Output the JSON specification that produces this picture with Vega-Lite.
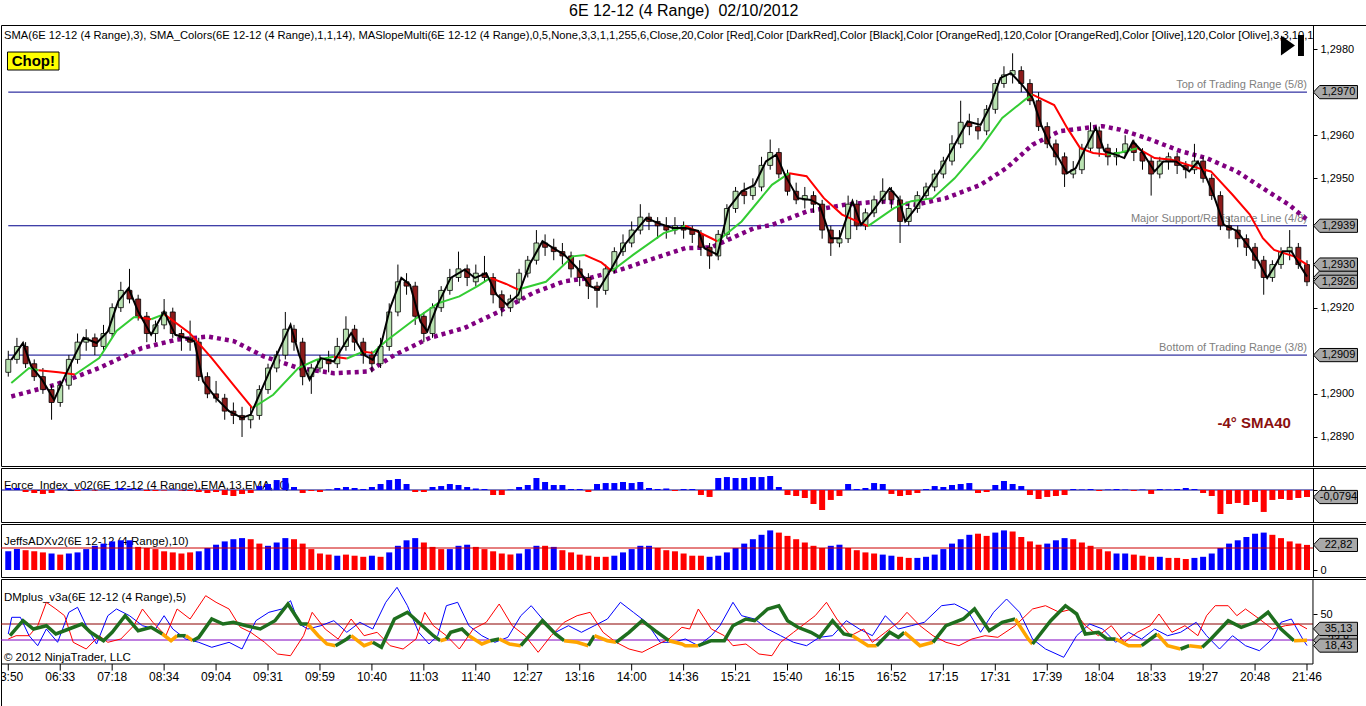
{
  "$schema": "https://vega.github.io/schema/vega-lite/v6.json",
  "background": "#ffffff",
  "padding": {"left": 0, "right": 0, "top": 2, "bottom": 0},
  "title": {"text": "6E 12-12 (4 Range) \u00a002/10/2012", "fontSize": 16, "fontWeight": "normal", "anchor": "middle", "offset": 6, "color": "#000"},
  "spacing": 0,
  "datasets": {
    "bars": [
      {"i":0,"o":1.2905,"h":1.2910,"l":1.2904,"c":1.2908,"f":0.023,"a":17,"ac":"b"},
      {"i":1,"o":1.2908,"h":1.2913,"l":1.2907,"c":1.2911,"f":0.023,"a":19,"ac":"b"},
      {"i":2,"o":1.2911,"h":1.2912,"l":1.2906,"c":1.2907,"f":-0.023,"a":18,"ac":"r"},
      {"i":3,"o":1.2907,"h":1.2908,"l":1.2903,"c":1.2904,"f":-0.034,"a":17,"ac":"r"},
      {"i":4,"o":1.2904,"h":1.2906,"l":1.2900,"c":1.2901,"f":-0.045,"a":16,"ac":"r"},
      {"i":5,"o":1.2901,"h":1.2902,"l":1.2894,"c":1.2898,"f":-0.034,"a":15,"ac":"b"},
      {"i":6,"o":1.2898,"h":1.2903,"l":1.2897,"c":1.2902,"f":0.011,"a":14,"ac":"r"},
      {"i":7,"o":1.2902,"h":1.2909,"l":1.2901,"c":1.2908,"f":0.006,"a":15,"ac":"b"},
      {"i":8,"o":1.2908,"h":1.2914,"l":1.2907,"c":1.2912,"f":-0.011,"a":16,"ac":"b"},
      {"i":9,"o":1.2912,"h":1.2915,"l":1.2910,"c":1.2913,"f":0.011,"a":19,"ac":"b"},
      {"i":10,"o":1.2913,"h":1.2914,"l":1.2909,"c":1.2911,"f":-0.006,"a":22,"ac":"b"},
      {"i":11,"o":1.2911,"h":1.2916,"l":1.2910,"c":1.2914,"f":0.006,"a":24,"ac":"b"},
      {"i":12,"o":1.2914,"h":1.2921,"l":1.2913,"c":1.2920,"f":0.011,"a":26,"ac":"b"},
      {"i":13,"o":1.2920,"h":1.2926,"l":1.2919,"c":1.2924,"f":0.023,"a":27,"ac":"b"},
      {"i":14,"o":1.2924,"h":1.2929,"l":1.2921,"c":1.2922,"f":0.017,"a":27,"ac":"b"},
      {"i":15,"o":1.2922,"h":1.2923,"l":1.2917,"c":1.2918,"f":0.011,"a":21,"ac":"r"},
      {"i":16,"o":1.2918,"h":1.2919,"l":1.2912,"c":1.2914,"f":-0.011,"a":20,"ac":"r"},
      {"i":17,"o":1.2914,"h":1.2917,"l":1.2912,"c":1.2916,"f":-0.011,"a":19,"ac":"r"},
      {"i":18,"o":1.2916,"h":1.2922,"l":1.2915,"c":1.2919,"f":-0.006,"a":17,"ac":"r"},
      {"i":19,"o":1.2919,"h":1.2920,"l":1.2913,"c":1.2914,"f":0.006,"a":16,"ac":"r"},
      {"i":20,"o":1.2914,"h":1.2915,"l":1.2910,"c":1.2913,"f":-0.006,"a":15,"ac":"r"},
      {"i":21,"o":1.2913,"h":1.2917,"l":1.2910,"c":1.2912,"f":-0.011,"a":16,"ac":"r"},
      {"i":22,"o":1.2912,"h":1.2913,"l":1.2903,"c":1.2904,"f":-0.023,"a":17,"ac":"b"},
      {"i":23,"o":1.2904,"h":1.2905,"l":1.2899,"c":1.2900,"f":-0.034,"a":20,"ac":"b"},
      {"i":24,"o":1.2900,"h":1.2903,"l":1.2898,"c":1.2899,"f":-0.023,"a":23,"ac":"b"},
      {"i":25,"o":1.2899,"h":1.2900,"l":1.2894,"c":1.2896,"f":-0.057,"a":26,"ac":"b"},
      {"i":26,"o":1.2896,"h":1.2898,"l":1.2893,"c":1.2895,"f":-0.068,"a":28,"ac":"b"},
      {"i":27,"o":1.2895,"h":1.2897,"l":1.2890,"c":1.2894,"f":-0.045,"a":29,"ac":"b"},
      {"i":28,"o":1.2894,"h":1.2897,"l":1.2892,"c":1.2895,"f":-0.034,"a":28,"ac":"r"},
      {"i":29,"o":1.2895,"h":1.2902,"l":1.2894,"c":1.2901,"f":0.045,"a":24,"ac":"r"},
      {"i":30,"o":1.2901,"h":1.2907,"l":1.2900,"c":1.2906,"f":0.068,"a":22,"ac":"b"},
      {"i":31,"o":1.2906,"h":1.2910,"l":1.2905,"c":1.2909,"f":0.113,"a":25,"ac":"b"},
      {"i":32,"o":1.2909,"h":1.2919,"l":1.2908,"c":1.2915,"f":0.136,"a":29,"ac":"b"},
      {"i":33,"o":1.2915,"h":1.2916,"l":1.2910,"c":1.2912,"f":0.034,"a":28,"ac":"r"},
      {"i":34,"o":1.2912,"h":1.2913,"l":1.2902,"c":1.2904,"f":-0.034,"a":24,"ac":"r"},
      {"i":35,"o":1.2904,"h":1.2907,"l":1.2900,"c":1.2906,"f":-0.011,"a":19,"ac":"r"},
      {"i":36,"o":1.2906,"h":1.2909,"l":1.2905,"c":1.2908,"f":-0.023,"a":15,"ac":"r"},
      {"i":37,"o":1.2908,"h":1.2910,"l":1.2905,"c":1.2907,"f":0.006,"a":14,"ac":"r"},
      {"i":38,"o":1.2907,"h":1.2913,"l":1.2906,"c":1.2911,"f":0.023,"a":13,"ac":"b"},
      {"i":39,"o":1.2911,"h":1.2918,"l":1.2910,"c":1.2915,"f":0.034,"a":14,"ac":"r"},
      {"i":40,"o":1.2915,"h":1.2916,"l":1.2910,"c":1.2912,"f":0.023,"a":13,"ac":"r"},
      {"i":41,"o":1.2912,"h":1.2913,"l":1.2907,"c":1.2909,"f":0.011,"a":12,"ac":"r"},
      {"i":42,"o":1.2909,"h":1.2910,"l":1.2905,"c":1.2907,"f":0.034,"a":13,"ac":"b"},
      {"i":43,"o":1.2907,"h":1.2913,"l":1.2906,"c":1.2911,"f":0.068,"a":12,"ac":"r"},
      {"i":44,"o":1.2911,"h":1.2921,"l":1.2910,"c":1.2919,"f":0.113,"a":16,"ac":"b"},
      {"i":45,"o":1.2919,"h":1.2930,"l":1.2918,"c":1.2926,"f":0.125,"a":22,"ac":"b"},
      {"i":46,"o":1.2926,"h":1.2928,"l":1.2923,"c":1.2925,"f":0.068,"a":27,"ac":"b"},
      {"i":47,"o":1.2925,"h":1.2926,"l":1.2916,"c":1.2918,"f":-0.023,"a":29,"ac":"b"},
      {"i":48,"o":1.2918,"h":1.2919,"l":1.2912,"c":1.2914,"f":-0.023,"a":25,"ac":"r"},
      {"i":49,"o":1.2914,"h":1.2921,"l":1.2913,"c":1.2920,"f":0.034,"a":21,"ac":"r"},
      {"i":50,"o":1.2920,"h":1.2925,"l":1.2919,"c":1.2924,"f":0.045,"a":19,"ac":"r"},
      {"i":51,"o":1.2924,"h":1.2929,"l":1.2923,"c":1.2927,"f":0.068,"a":19,"ac":"b"},
      {"i":52,"o":1.2927,"h":1.2933,"l":1.2926,"c":1.2929,"f":0.057,"a":22,"ac":"b"},
      {"i":53,"o":1.2929,"h":1.2930,"l":1.2925,"c":1.2927,"f":0.034,"a":23,"ac":"b"},
      {"i":54,"o":1.2926,"h":1.2930,"l":1.2925,"c":1.2928,"f":0.017,"a":21,"ac":"r"},
      {"i":55,"o":1.2928,"h":1.2932,"l":1.2926,"c":1.2927,"f":0.011,"a":19,"ac":"r"},
      {"i":56,"o":1.2927,"h":1.2928,"l":1.2921,"c":1.2923,"f":-0.057,"a":17,"ac":"r"},
      {"i":57,"o":1.2923,"h":1.2924,"l":1.2918,"c":1.2920,"f":-0.057,"a":15,"ac":"r"},
      {"i":58,"o":1.2920,"h":1.2923,"l":1.2919,"c":1.2922,"f":0.006,"a":14,"ac":"r"},
      {"i":59,"o":1.2922,"h":1.2929,"l":1.2921,"c":1.2928,"f":0.034,"a":15,"ac":"b"},
      {"i":60,"o":1.2928,"h":1.2932,"l":1.2927,"c":1.2931,"f":0.057,"a":19,"ac":"b"},
      {"i":61,"o":1.2931,"h":1.2938,"l":1.2930,"c":1.2935,"f":0.136,"a":22,"ac":"b"},
      {"i":62,"o":1.2935,"h":1.2937,"l":1.2932,"c":1.2934,"f":0.091,"a":22,"ac":"r"},
      {"i":63,"o":1.2934,"h":1.2936,"l":1.2931,"c":1.2933,"f":0.057,"a":21,"ac":"b"},
      {"i":64,"o":1.2933,"h":1.2935,"l":1.2930,"c":1.2932,"f":0.057,"a":18,"ac":"r"},
      {"i":65,"o":1.2932,"h":1.2933,"l":1.2927,"c":1.2929,"f":0.011,"a":16,"ac":"r"},
      {"i":66,"o":1.2929,"h":1.2931,"l":1.2925,"c":1.2927,"f":0.011,"a":14,"ac":"r"},
      {"i":67,"o":1.2927,"h":1.2928,"l":1.2922,"c":1.2925,"f":-0.023,"a":13,"ac":"r"},
      {"i":68,"o":1.2925,"h":1.2926,"l":1.2920,"c":1.2924,"f":0.068,"a":12,"ac":"r"},
      {"i":69,"o":1.2924,"h":1.2930,"l":1.2923,"c":1.2929,"f":0.079,"a":12,"ac":"r"},
      {"i":70,"o":1.2929,"h":1.2934,"l":1.2928,"c":1.2933,"f":0.079,"a":13,"ac":"b"},
      {"i":71,"o":1.2933,"h":1.2937,"l":1.2932,"c":1.2935,"f":0.091,"a":16,"ac":"b"},
      {"i":72,"o":1.2935,"h":1.2940,"l":1.2934,"c":1.2938,"f":0.079,"a":19,"ac":"b"},
      {"i":73,"o":1.2938,"h":1.2944,"l":1.2937,"c":1.2941,"f":0.091,"a":22,"ac":"b"},
      {"i":74,"o":1.2941,"h":1.2942,"l":1.2938,"c":1.2940,"f":0.023,"a":22,"ac":"b"},
      {"i":75,"o":1.2940,"h":1.2941,"l":1.2936,"c":1.2939,"f":0.011,"a":20,"ac":"r"},
      {"i":76,"o":1.2939,"h":1.2941,"l":1.2936,"c":1.2938,"f":0.017,"a":18,"ac":"r"},
      {"i":77,"o":1.2938,"h":1.2941,"l":1.2937,"c":1.2939,"f":-0.011,"a":17,"ac":"r"},
      {"i":78,"o":1.2939,"h":1.2940,"l":1.2936,"c":1.2938,"f":0.011,"a":15,"ac":"r"},
      {"i":79,"o":1.2938,"h":1.2939,"l":1.2935,"c":1.2937,"f":0.011,"a":13,"ac":"r"},
      {"i":80,"o":1.2937,"h":1.2938,"l":1.2932,"c":1.2934,"f":-0.057,"a":13,"ac":"r"},
      {"i":81,"o":1.2934,"h":1.2935,"l":1.2929,"c":1.2932,"f":-0.079,"a":12,"ac":"b"},
      {"i":82,"o":1.2932,"h":1.2938,"l":1.2931,"c":1.2937,"f":0.136,"a":13,"ac":"b"},
      {"i":83,"o":1.2937,"h":1.2944,"l":1.2936,"c":1.2943,"f":0.147,"a":16,"ac":"b"},
      {"i":84,"o":1.2943,"h":1.2948,"l":1.2942,"c":1.2947,"f":0.136,"a":20,"ac":"b"},
      {"i":85,"o":1.2947,"h":1.2949,"l":1.2944,"c":1.2946,"f":0.136,"a":24,"ac":"b"},
      {"i":86,"o":1.2946,"h":1.2950,"l":1.2945,"c":1.2948,"f":0.147,"a":28,"ac":"b"},
      {"i":87,"o":1.2948,"h":1.2955,"l":1.2947,"c":1.2953,"f":0.147,"a":32,"ac":"b"},
      {"i":88,"o":1.2953,"h":1.2959,"l":1.2952,"c":1.2956,"f":0.159,"a":36,"ac":"b"},
      {"i":89,"o":1.2956,"h":1.2957,"l":1.2950,"c":1.2951,"f":0.034,"a":34,"ac":"r"},
      {"i":90,"o":1.2951,"h":1.2952,"l":1.2946,"c":1.2947,"f":-0.057,"a":31,"ac":"r"},
      {"i":91,"o":1.2947,"h":1.2949,"l":1.2944,"c":1.2945,"f":-0.068,"a":28,"ac":"r"},
      {"i":92,"o":1.2945,"h":1.2948,"l":1.2943,"c":1.2946,"f":-0.091,"a":25,"ac":"r"},
      {"i":93,"o":1.2946,"h":1.2947,"l":1.2942,"c":1.2944,"f":-0.159,"a":22,"ac":"r"},
      {"i":94,"o":1.2944,"h":1.2945,"l":1.2936,"c":1.2938,"f":-0.227,"a":20,"ac":"r"},
      {"i":95,"o":1.2938,"h":1.2939,"l":1.2932,"c":1.2935,"f":-0.113,"a":22,"ac":"b"},
      {"i":96,"o":1.2935,"h":1.2938,"l":1.2934,"c":1.2936,"f":-0.068,"a":23,"ac":"b"},
      {"i":97,"o":1.2936,"h":1.2946,"l":1.2935,"c":1.2944,"f":0.068,"a":20,"ac":"r"},
      {"i":98,"o":1.2944,"h":1.2945,"l":1.2938,"c":1.2939,"f":0.011,"a":18,"ac":"r"},
      {"i":99,"o":1.2939,"h":1.2943,"l":1.2938,"c":1.2942,"f":0.023,"a":16,"ac":"r"},
      {"i":100,"o":1.2942,"h":1.2946,"l":1.2941,"c":1.2945,"f":0.079,"a":15,"ac":"r"},
      {"i":101,"o":1.2945,"h":1.2950,"l":1.2944,"c":1.2947,"f":0.068,"a":14,"ac":"b"},
      {"i":102,"o":1.2947,"h":1.2948,"l":1.2943,"c":1.2945,"f":-0.045,"a":13,"ac":"b"},
      {"i":103,"o":1.2945,"h":1.2946,"l":1.2935,"c":1.2940,"f":-0.068,"a":12,"ac":"r"},
      {"i":104,"o":1.2940,"h":1.2944,"l":1.2939,"c":1.2943,"f":-0.057,"a":11,"ac":"r"},
      {"i":105,"o":1.2943,"h":1.2947,"l":1.2942,"c":1.2946,"f":-0.034,"a":11,"ac":"b"},
      {"i":106,"o":1.2946,"h":1.2949,"l":1.2945,"c":1.2948,"f":0.011,"a":12,"ac":"b"},
      {"i":107,"o":1.2948,"h":1.2952,"l":1.2947,"c":1.2951,"f":0.045,"a":14,"ac":"b"},
      {"i":108,"o":1.2951,"h":1.2955,"l":1.2950,"c":1.2954,"f":0.034,"a":19,"ac":"b"},
      {"i":109,"o":1.2954,"h":1.2960,"l":1.2953,"c":1.2958,"f":0.057,"a":24,"ac":"b"},
      {"i":110,"o":1.2958,"h":1.2968,"l":1.2957,"c":1.2963,"f":0.068,"a":28,"ac":"b"},
      {"i":111,"o":1.2963,"h":1.2965,"l":1.2960,"c":1.2962,"f":0.079,"a":32,"ac":"b"},
      {"i":112,"o":1.2962,"h":1.2964,"l":1.2959,"c":1.2961,"f":-0.034,"a":33,"ac":"r"},
      {"i":113,"o":1.2961,"h":1.2967,"l":1.2960,"c":1.2966,"f":-0.023,"a":31,"ac":"r"},
      {"i":114,"o":1.2966,"h":1.2973,"l":1.2965,"c":1.2972,"f":0.057,"a":34,"ac":"b"},
      {"i":115,"o":1.2972,"h":1.2976,"l":1.2971,"c":1.2974,"f":0.102,"a":36,"ac":"b"},
      {"i":116,"o":1.2974,"h":1.2979,"l":1.2972,"c":1.2975,"f":0.068,"a":35,"ac":"r"},
      {"i":117,"o":1.2975,"h":1.2976,"l":1.2970,"c":1.2972,"f":0.045,"a":30,"ac":"r"},
      {"i":118,"o":1.2972,"h":1.2973,"l":1.2967,"c":1.2968,"f":-0.057,"a":26,"ac":"r"},
      {"i":119,"o":1.2968,"h":1.2970,"l":1.2961,"c":1.2962,"f":-0.102,"a":23,"ac":"r"},
      {"i":120,"o":1.2962,"h":1.2963,"l":1.2957,"c":1.2958,"f":-0.079,"a":24,"ac":"b"},
      {"i":121,"o":1.2958,"h":1.2959,"l":1.2953,"c":1.2955,"f":-0.068,"a":27,"ac":"b"},
      {"i":122,"o":1.2955,"h":1.2956,"l":1.2948,"c":1.2951,"f":-0.057,"a":29,"ac":"b"},
      {"i":123,"o":1.2951,"h":1.2954,"l":1.2950,"c":1.2952,"f":0.011,"a":28,"ac":"r"},
      {"i":124,"o":1.2952,"h":1.2958,"l":1.2951,"c":1.2957,"f":0.006,"a":25,"ac":"r"},
      {"i":125,"o":1.2957,"h":1.2963,"l":1.2956,"c":1.2961,"f":0.011,"a":22,"ac":"r"},
      {"i":126,"o":1.2961,"h":1.2962,"l":1.2955,"c":1.2957,"f":-0.011,"a":19,"ac":"r"},
      {"i":127,"o":1.2957,"h":1.2958,"l":1.2953,"c":1.2955,"f":0.006,"a":17,"ac":"r"},
      {"i":128,"o":1.2955,"h":1.2957,"l":1.2953,"c":1.2956,"f":0.011,"a":15,"ac":"b"},
      {"i":129,"o":1.2956,"h":1.2960,"l":1.2955,"c":1.2958,"f":0.006,"a":15,"ac":"b"},
      {"i":130,"o":1.2958,"h":1.2959,"l":1.2954,"c":1.2956,"f":-0.011,"a":14,"ac":"r"},
      {"i":131,"o":1.2956,"h":1.2957,"l":1.2952,"c":1.2954,"f":0.006,"a":13,"ac":"r"},
      {"i":132,"o":1.2954,"h":1.2955,"l":1.2946,"c":1.2951,"f":-0.045,"a":12,"ac":"r"},
      {"i":133,"o":1.2951,"h":1.2955,"l":1.2950,"c":1.2954,"f":0.011,"a":12,"ac":"b"},
      {"i":134,"o":1.2954,"h":1.2956,"l":1.2952,"c":1.2955,"f":0.006,"a":11,"ac":"r"},
      {"i":135,"o":1.2955,"h":1.2956,"l":1.2951,"c":1.2953,"f":0.011,"a":11,"ac":"r"},
      {"i":136,"o":1.2953,"h":1.2954,"l":1.2950,"c":1.2952,"f":0.023,"a":10,"ac":"r"},
      {"i":137,"o":1.2952,"h":1.2958,"l":1.2951,"c":1.2954,"f":0.011,"a":11,"ac":"b"},
      {"i":138,"o":1.2954,"h":1.2955,"l":1.2949,"c":1.2950,"f":-0.034,"a":12,"ac":"b"},
      {"i":139,"o":1.2950,"h":1.2951,"l":1.2945,"c":1.2946,"f":-0.068,"a":15,"ac":"b"},
      {"i":140,"o":1.2946,"h":1.2947,"l":1.2938,"c":1.2939,"f":-0.272,"a":20,"ac":"b"},
      {"i":141,"o":1.2939,"h":1.2941,"l":1.2936,"c":1.2938,"f":-0.159,"a":24,"ac":"b"},
      {"i":142,"o":1.2938,"h":1.2939,"l":1.2934,"c":1.2936,"f":-0.147,"a":27,"ac":"b"},
      {"i":143,"o":1.2936,"h":1.2937,"l":1.2932,"c":1.2934,"f":-0.170,"a":30,"ac":"b"},
      {"i":144,"o":1.2934,"h":1.2935,"l":1.2929,"c":1.2931,"f":-0.136,"a":33,"ac":"b"},
      {"i":145,"o":1.2931,"h":1.2932,"l":1.2923,"c":1.2927,"f":-0.249,"a":34,"ac":"b"},
      {"i":146,"o":1.2927,"h":1.2931,"l":1.2926,"c":1.2930,"f":-0.113,"a":32,"ac":"r"},
      {"i":147,"o":1.2930,"h":1.2934,"l":1.2929,"c":1.2933,"f":-0.102,"a":29,"ac":"r"},
      {"i":148,"o":1.2933,"h":1.2938,"l":1.2931,"c":1.2934,"f":-0.113,"a":26,"ac":"r"},
      {"i":149,"o":1.2934,"h":1.2935,"l":1.2929,"c":1.2930,"f":-0.091,"a":24,"ac":"r"},
      {"i":150,"o":1.2930,"h":1.2931,"l":1.2925,"c":1.2926,"f":-0.0794,"a":22.82,"ac":"r"}
    ],
    "sma3": [
      {"i":0.35,"p":1.29079},{"i":1.7,"p":1.29118},{"i":2.65,"p":1.29064},{"i":3.9,"p":1.29033},{"i":5.3,"p":1.28986},{"i":6.45,"p":1.29037},{"i":7.7,"p":1.2909},{"i":8.7,"p":1.2913},{"i":10.2,"p":1.29118},{"i":11.5,"p":1.29145},{"i":12.7,"p":1.29215},{"i":13.9,"p":1.29245},{"i":15,"p":1.29191},{"i":16.5,"p":1.29137},{"i":18,"p":1.29191},{"i":19.3,"p":1.29137},{"i":20.5,"p":1.2913},{"i":21.5,"p":1.29122},{"i":22.5,"p":1.29029},{"i":24,"p":1.2899},{"i":25.5,"p":1.2896},{"i":27,"p":1.28944},{"i":28,"p":1.28952},{"i":29.5,"p":1.29021},{"i":31,"p":1.2909},{"i":32.6,"p":1.2916},{"i":33.6,"p":1.2909},{"i":34.8,"p":1.29033},{"i":36.1,"p":1.29083},{"i":37.6,"p":1.29075},{"i":39.6,"p":1.29141},{"i":41.1,"p":1.2909},{"i":42.1,"p":1.29079},{"i":43.1,"p":1.29118},{"i":44.1,"p":1.29199},{"i":45.4,"p":1.29269},{"i":46.4,"p":1.29253},{"i":47.6,"p":1.29168},{"i":48.4,"p":1.29145},{"i":49.6,"p":1.29207},{"i":51.1,"p":1.29269},{"i":52.7,"p":1.29288},{"i":53.9,"p":1.29269},{"i":55.2,"p":1.2928},{"i":56.4,"p":1.2923},{"i":57.6,"p":1.29207},{"i":58.9,"p":1.2923},{"i":60.2,"p":1.293},{"i":61.7,"p":1.29354},{"i":62.95,"p":1.29338},{"i":64.2,"p":1.29323},{"i":65.7,"p":1.29292},{"i":67.2,"p":1.2925},{"i":68.2,"p":1.29242},{"i":69.7,"p":1.29292},{"i":71.2,"p":1.29346},{"i":72.75,"p":1.29385},{"i":73.7,"p":1.29408},{"i":75.2,"p":1.29395},{"i":76.75,"p":1.29385},{"i":78.2,"p":1.29385},{"i":79.7,"p":1.29378},{"i":80.4,"p":1.29338},{"i":81.9,"p":1.29323},{"i":83.2,"p":1.29431},{"i":84.7,"p":1.2947},{"i":86.2,"p":1.29485},{"i":87.5,"p":1.29539},{"i":88.7,"p":1.29555},{"i":89.7,"p":1.29508},{"i":91.2,"p":1.29454},{"i":92.7,"p":1.2945},{"i":93.7,"p":1.29439},{"i":95,"p":1.29361},{"i":96,"p":1.29361},{"i":97.5,"p":1.29447},{"i":98.5,"p":1.29392},{"i":99.8,"p":1.29423},{"i":101.8,"p":1.29477},{"i":102.8,"p":1.29454},{"i":103.6,"p":1.294},{"i":104.8,"p":1.29431},{"i":106.3,"p":1.29477},{"i":107.8,"p":1.29524},{"i":109.3,"p":1.29578},{"i":110.8,"p":1.29632},{"i":112.3,"p":1.29624},{"i":113.3,"p":1.29663},{"i":114.6,"p":1.29733},{"i":115.8,"p":1.29744},{"i":117.1,"p":1.29717},{"i":118.3,"p":1.29686},{"i":119.3,"p":1.29624},{"i":120.3,"p":1.29578},{"i":121.3,"p":1.29547},{"i":122.3,"p":1.29512},{"i":123.3,"p":1.29524},{"i":124.4,"p":1.2957},{"i":125.6,"p":1.29617},{"i":126.6,"p":1.29563},{"i":127.9,"p":1.29555},{"i":128.9,"p":1.29547},{"i":129.9,"p":1.29586},{"i":130.9,"p":1.29563},{"i":132.4,"p":1.29516},{"i":133.4,"p":1.29539},{"i":134.9,"p":1.29539},{"i":136.4,"p":1.29516},{"i":137.4,"p":1.29539},{"i":138.4,"p":1.295},{"i":139.2,"p":1.29462},{"i":140.4,"p":1.29392},{"i":141.9,"p":1.29378},{"i":143.4,"p":1.29338},{"i":144.4,"p":1.29307},{"i":145.4,"p":1.29269},{"i":146.4,"p":1.293},{"i":147.2,"p":1.29331},{"i":148.2,"p":1.29331},{"i":148.9,"p":1.29307},{"i":150,"p":1.29272}
    ],
    "sma14": [
      {"i":0.35,"p":1.29025,"s":1,"c":"g"},{"i":2.4,"p":1.2906,"s":1,"c":"g"},{"i":3.5,"p":1.29055,"s":1,"c":"g"},
      {"i":3.5,"p":1.29055,"s":2,"c":"r"},{"i":5.8,"p":1.2905,"s":2,"c":"r"},{"i":7.7,"p":1.29045,"s":2,"c":"r"},
      {"i":7.7,"p":1.29045,"s":3,"c":"g"},{"i":10.5,"p":1.29083,"s":3,"c":"g"},{"i":12.5,"p":1.29146,"s":3,"c":"g"},{"i":14.5,"p":1.29178,"s":3,"c":"g"},{"i":15,"p":1.29178,"s":3,"c":"g"},
      {"i":15,"p":1.29178,"s":4,"c":"r"},{"i":16.5,"p":1.29173,"s":4,"c":"r"},
      {"i":16.5,"p":1.29173,"s":5,"c":"g"},{"i":18,"p":1.29185,"s":5,"c":"g"},
      {"i":18,"p":1.29185,"s":6,"c":"r"},{"i":21,"p":1.2914,"s":6,"c":"r"},{"i":23.5,"p":1.29083,"s":6,"c":"r"},{"i":26,"p":1.29021,"s":6,"c":"r"},{"i":28.2,"p":1.28967,"s":6,"c":"r"},
      {"i":28.2,"p":1.28967,"s":7,"c":"g"},{"i":30.6,"p":1.28998,"s":7,"c":"g"},{"i":33.5,"p":1.2906,"s":7,"c":"g"},{"i":35.6,"p":1.29079,"s":7,"c":"g"},{"i":37.6,"p":1.29086,"s":7,"c":"g"},
      {"i":37.6,"p":1.29086,"s":8,"c":"r"},{"i":39.1,"p":1.29082,"s":8,"c":"r"},
      {"i":39.1,"p":1.29082,"s":9,"c":"g"},{"i":41,"p":1.29098,"s":9,"c":"g"},
      {"i":41,"p":1.29098,"s":10,"c":"r"},{"i":42.1,"p":1.29095,"s":10,"c":"r"},
      {"i":42.1,"p":1.29095,"s":11,"c":"g"},{"i":43.6,"p":1.29122,"s":11,"c":"g"},{"i":46.6,"p":1.29168,"s":11,"c":"g"},{"i":49.6,"p":1.2921,"s":11,"c":"g"},{"i":52.1,"p":1.29226,"s":11,"c":"g"},{"i":54.2,"p":1.2925,"s":11,"c":"g"},{"i":55.7,"p":1.29269,"s":11,"c":"g"},
      {"i":55.7,"p":1.29269,"s":12,"c":"r"},{"i":57.5,"p":1.29255,"s":12,"c":"r"},{"i":58.9,"p":1.29242,"s":12,"c":"r"},
      {"i":58.9,"p":1.29242,"s":13,"c":"g"},{"i":62.1,"p":1.2926,"s":13,"c":"g"},{"i":65.2,"p":1.29319,"s":13,"c":"g"},{"i":66.6,"p":1.29322,"s":13,"c":"g"},
      {"i":66.6,"p":1.29322,"s":14,"c":"r"},{"i":68.5,"p":1.29305,"s":14,"c":"r"},{"i":69.7,"p":1.29285,"s":14,"c":"r"},
      {"i":69.7,"p":1.29285,"s":15,"c":"g"},{"i":72.2,"p":1.29323,"s":15,"c":"g"},{"i":75.7,"p":1.29373,"s":15,"c":"g"},{"i":77.7,"p":1.29385,"s":15,"c":"g"},{"i":78.2,"p":1.2939,"s":15,"c":"g"},
      {"i":78.2,"p":1.2939,"s":16,"c":"r"},{"i":81.2,"p":1.29361,"s":16,"c":"r"},{"i":81.9,"p":1.29354,"s":16,"c":"r"},
      {"i":81.9,"p":1.29354,"s":17,"c":"g"},{"i":84.7,"p":1.294,"s":17,"c":"g"},{"i":88.2,"p":1.29485,"s":17,"c":"g"},{"i":90.2,"p":1.29512,"s":17,"c":"g"},
      {"i":90.2,"p":1.29512,"s":18,"c":"r"},{"i":92.2,"p":1.29505,"s":18,"c":"r"},{"i":94.2,"p":1.29454,"s":18,"c":"r"},{"i":96.3,"p":1.29416,"s":18,"c":"r"},{"i":99.3,"p":1.29389,"s":18,"c":"r"},
      {"i":99.3,"p":1.29389,"s":19,"c":"g"},{"i":102.3,"p":1.29431,"s":19,"c":"g"},{"i":104.3,"p":1.29447,"s":19,"c":"g"},{"i":106.8,"p":1.29454,"s":19,"c":"g"},{"i":109.3,"p":1.295,"s":19,"c":"g"},{"i":112.3,"p":1.2957,"s":19,"c":"g"},{"i":114.8,"p":1.2964,"s":19,"c":"g"},{"i":117.4,"p":1.29682,"s":19,"c":"g"},{"i":118.3,"p":1.29694,"s":19,"c":"g"},
      {"i":118.3,"p":1.29694,"s":20,"c":"r"},{"i":120.8,"p":1.2967,"s":20,"c":"r"},{"i":122.3,"p":1.29617,"s":20,"c":"r"},{"i":123.8,"p":1.2957,"s":20,"c":"r"},{"i":125.3,"p":1.29559,"s":20,"c":"r"},{"i":126.9,"p":1.29555,"s":20,"c":"r"},
      {"i":126.9,"p":1.29555,"s":21,"c":"g"},{"i":128.5,"p":1.2956,"s":21,"c":"g"},{"i":130.4,"p":1.2957,"s":21,"c":"g"},
      {"i":130.4,"p":1.2957,"s":22,"c":"r"},{"i":132.4,"p":1.29547,"s":22,"c":"r"},{"i":134.4,"p":1.29543,"s":22,"c":"r"},{"i":137.4,"p":1.29524,"s":22,"c":"r"},{"i":138.9,"p":1.29516,"s":22,"c":"r"},{"i":141.4,"p":1.29462,"s":22,"c":"r"},{"i":143.4,"p":1.29416,"s":22,"c":"r"},{"i":144.9,"p":1.29361,"s":22,"c":"r"},{"i":146.2,"p":1.29334,"s":22,"c":"r"},{"i":148.5,"p":1.29319,"s":22,"c":"r"},{"i":150,"p":1.293,"s":22,"c":"r"}
    ],
    "sma40": [
      {"i":0.35,"p":1.28994},{"i":5.4,"p":1.29021},{"i":10.5,"p":1.2906},{"i":15.4,"p":1.29106},{"i":19.5,"p":1.29126},{"i":23.1,"p":1.29133},{"i":26.1,"p":1.29122},{"i":29.5,"p":1.29087},{"i":33.5,"p":1.2906},{"i":37.6,"p":1.29048},{"i":41.6,"p":1.29052},{"i":44.6,"p":1.2909},{"i":48.7,"p":1.2913},{"i":52.7,"p":1.29153},{"i":56.7,"p":1.29191},{"i":60.6,"p":1.29234},{"i":64.2,"p":1.29261},{"i":67.2,"p":1.29269},{"i":70.7,"p":1.29288},{"i":74.7,"p":1.29315},{"i":78.2,"p":1.29338},{"i":81.2,"p":1.2934},{"i":86.2,"p":1.29385},{"i":88.2,"p":1.29392},{"i":92.2,"p":1.29423},{"i":96.7,"p":1.29439},{"i":100.8,"p":1.29447},{"i":104.8,"p":1.29439},{"i":108.3,"p":1.29454},{"i":112.3,"p":1.29485},{"i":115.3,"p":1.29524},{"i":118.3,"p":1.29578},{"i":121.4,"p":1.29609},{"i":124.4,"p":1.29617},{"i":126.4,"p":1.29621},{"i":128.4,"p":1.29613},{"i":131.4,"p":1.29594},{"i":135.4,"p":1.29563},{"i":138.4,"p":1.29547},{"i":141.9,"p":1.29516},{"i":144.9,"p":1.29477},{"i":147.9,"p":1.29439},{"i":150,"p":1.29404}
    ],
    "dmb": [
      {"i":0,"v":30},{"i":0.4,"v":46.7},{"i":1.4,"v":46.7},{"i":2.4,"v":28.3},{"i":3.4,"v":18.3},{"i":4.4,"v":35},{"i":5.7,"v":21.7},{"i":7,"v":51.7},{"i":8,"v":56.7},{"i":9,"v":38.3},{"i":10.2,"v":20},{"i":11.5,"v":48.3},{"i":12.5,"v":55},{"i":14,"v":48.3},{"i":15.5,"v":38.3},{"i":17,"v":35},{"i":18,"v":48.3},{"i":19,"v":35},{"i":20.5,"v":25},{"i":22,"v":21.7},{"i":23.5,"v":16.7},{"i":25.5,"v":21.7},{"i":27,"v":15},{"i":28.6,"v":43.3},{"i":30.1,"v":51.7},{"i":31.6,"v":55},{"i":32.6,"v":63.3},{"i":33.6,"v":40},{"i":34.6,"v":35},{"i":36.1,"v":38.3},{"i":37.6,"v":43.3},{"i":39.1,"v":31.7},{"i":40.6,"v":41.7},{"i":42.1,"v":35},{"i":43.6,"v":61.7},{"i":44.9,"v":76.7},{"i":46.1,"v":58.3},{"i":47.4,"v":31.7},{"i":48.6,"v":20},{"i":49.6,"v":28.3},{"i":50.6,"v":58.3},{"i":51.9,"v":61.7},{"i":53.2,"v":38.3},{"i":54.7,"v":28.3},{"i":56.2,"v":21.7},{"i":57.7,"v":26.7},{"i":59.2,"v":48.3},{"i":60.4,"v":58.3},{"i":61.7,"v":45},{"i":63.2,"v":31.7},{"i":64.7,"v":38.3},{"i":66.2,"v":31.7},{"i":67.7,"v":38.3},{"i":69.2,"v":45},{"i":70.7,"v":61.7},{"i":72.2,"v":51.7},{"i":73.7,"v":41.7},{"i":75.3,"v":21.7},{"i":76.8,"v":21.7},{"i":78.2,"v":25},{"i":79.7,"v":18.3},{"i":81.2,"v":28.3},{"i":82.2,"v":38.3},{"i":83.7,"v":61.7},{"i":84.7,"v":48.3},{"i":86.2,"v":45},{"i":87.7,"v":35},{"i":89.2,"v":28.3},{"i":90.7,"v":21.7},{"i":92.2,"v":18.3},{"i":93.7,"v":26.7},{"i":95.2,"v":28.3},{"i":96.8,"v":43.3},{"i":98.3,"v":35},{"i":99.8,"v":28.3},{"i":101.3,"v":48.3},{"i":102.8,"v":35},{"i":104.3,"v":38.3},{"i":105.8,"v":41.7},{"i":107.8,"v":58.3},{"i":109.3,"v":60},{"i":110.8,"v":53.3},{"i":112.3,"v":31.7},{"i":113.8,"v":51.7},{"i":115.3,"v":65},{"i":116.8,"v":51.7},{"i":118.3,"v":25},{"i":119.8,"v":15},{"i":121.9,"v":6.7},{"i":123.4,"v":28.3},{"i":124.9,"v":40},{"i":126.4,"v":35},{"i":127.9,"v":21.7},{"i":129.4,"v":31.7},{"i":130.9,"v":25},{"i":132.4,"v":35},{"i":133.9,"v":28.3},{"i":135.4,"v":31.7},{"i":137.2,"v":41.7},{"i":138.4,"v":28.3},{"i":139.9,"v":15},{"i":141.4,"v":28.3},{"i":142.9,"v":18.3},{"i":144.5,"v":13.3},{"i":146,"v":25},{"i":147,"v":41.7},{"i":148.2,"v":45},{"i":149.5,"v":25},{"i":150,"v":18.43}
    ],
    "dmr": [
      {"i":0,"v":25},{"i":0.9,"v":28.3},{"i":2.4,"v":28.3},{"i":3.4,"v":38.3},{"i":4.4,"v":61.7},{"i":5.5,"v":55},{"i":6.5,"v":48.3},{"i":7.5,"v":21.7},{"i":9,"v":15},{"i":10.5,"v":28.3},{"i":11.5,"v":21.7},{"i":13,"v":25},{"i":14.5,"v":38.3},{"i":15.5,"v":55},{"i":16.7,"v":41.7},{"i":18.2,"v":28.3},{"i":19.5,"v":55},{"i":21,"v":45},{"i":22.8,"v":68.3},{"i":24,"v":61.7},{"i":25.5,"v":55},{"i":26.8,"v":36.7},{"i":28,"v":31.7},{"i":29.6,"v":21.7},{"i":31.1,"v":10},{"i":32.6,"v":8.3},{"i":34.1,"v":28.3},{"i":35.1,"v":51.7},{"i":36.6,"v":35},{"i":38.1,"v":25},{"i":39.6,"v":45},{"i":41.1,"v":28.3},{"i":42.6,"v":31.7},{"i":44.1,"v":18.3},{"i":45.6,"v":15},{"i":47.1,"v":25},{"i":48.1,"v":51.7},{"i":49.1,"v":38.3},{"i":50.6,"v":28.3},{"i":52.1,"v":15},{"i":53.7,"v":35},{"i":55.2,"v":41.7},{"i":56.7,"v":60},{"i":58.2,"v":38.3},{"i":59.7,"v":28.3},{"i":61.2,"v":11.7},{"i":62.7,"v":28.3},{"i":64.2,"v":41.7},{"i":65.7,"v":48.3},{"i":67.2,"v":51.7},{"i":68.7,"v":31.7},{"i":70.2,"v":21.7},{"i":71.7,"v":15},{"i":73.2,"v":11.7},{"i":74.7,"v":18.3},{"i":76.3,"v":25},{"i":77.8,"v":36.7},{"i":78.7,"v":35},{"i":79.7,"v":55},{"i":81.2,"v":35},{"i":82.7,"v":28.3},{"i":83.7,"v":18.3},{"i":85.2,"v":20},{"i":86.7,"v":10},{"i":88.2,"v":8.3},{"i":89.2,"v":21.7},{"i":90.7,"v":31.7},{"i":92.2,"v":41.7},{"i":93.2,"v":48.3},{"i":94.5,"v":61.7},{"i":95.7,"v":45},{"i":97.3,"v":28.3},{"i":98.8,"v":35},{"i":99.8,"v":21.7},{"i":101.3,"v":31.7},{"i":102.8,"v":41.7},{"i":103.8,"v":51.7},{"i":105.3,"v":38.3},{"i":106.8,"v":28.3},{"i":108.3,"v":21.7},{"i":109.8,"v":18.3},{"i":111.3,"v":25},{"i":112.8,"v":28.3},{"i":114.3,"v":26.7},{"i":116.3,"v":38.3},{"i":118.3,"v":55},{"i":119.8,"v":58.3},{"i":121.4,"v":51.7},{"i":122.9,"v":55},{"i":124.4,"v":38.3},{"i":125.9,"v":28.3},{"i":127.4,"v":38.3},{"i":128.9,"v":21.7},{"i":130.4,"v":31.7},{"i":131.9,"v":38.3},{"i":132.9,"v":50},{"i":134.4,"v":31.7},{"i":135.9,"v":38.3},{"i":137.4,"v":28.3},{"i":138.4,"v":48.3},{"i":139.4,"v":58.3},{"i":140.9,"v":58.3},{"i":141.9,"v":48.3},{"i":142.9,"v":55},{"i":144.5,"v":45},{"i":146,"v":35},{"i":147.5,"v":38.3},{"i":149,"v":40},{"i":150,"v":35.13}
    ],
    "dmt": [
      {"i":0.2,"v":28.3,"s":1,"c":"d"},{"i":1.7,"v":43.3,"s":1,"c":"d"},{"i":2.9,"v":35,"s":1,"c":"d"},{"i":4.4,"v":38.3,"s":1,"c":"d"},{"i":5.5,"v":30,"s":1,"c":"d"},{"i":7,"v":35,"s":1,"c":"d"},{"i":8.5,"v":40,"s":1,"c":"d"},{"i":9.5,"v":31.7,"s":1,"c":"d"},{"i":11,"v":23.3,"s":1,"c":"d"},{"i":12,"v":31.7,"s":1,"c":"d"},{"i":13.5,"v":48.3,"s":1,"c":"d"},{"i":15,"v":33.3,"s":1,"c":"d"},{"i":16.5,"v":36.7,"s":1,"c":"d"},{"i":17.8,"v":30,"s":1,"c":"d"},
      {"i":17.8,"v":30,"s":2,"c":"o"},{"i":18.8,"v":23.3,"s":2,"c":"o"},{"i":19.5,"v":28.3,"s":2,"c":"o"},
      {"i":19.5,"v":28.3,"s":3,"c":"d"},{"i":20.5,"v":28.3,"s":3,"c":"d"},
      {"i":20.5,"v":28.3,"s":4,"c":"o"},{"i":21.3,"v":23.3,"s":4,"c":"o"},
      {"i":21.3,"v":23.3,"s":5,"c":"d"},{"i":22,"v":26.7,"s":5,"c":"d"},{"i":23.5,"v":45,"s":5,"c":"d"},{"i":24.8,"v":40,"s":5,"c":"d"},{"i":26,"v":41.7,"s":5,"c":"d"},{"i":27.5,"v":38.3,"s":5,"c":"d"},{"i":29.1,"v":35,"s":5,"c":"d"},{"i":30.8,"v":43.3,"s":5,"c":"d"},{"i":32.3,"v":60,"s":5,"c":"d"},{"i":33.8,"v":40,"s":5,"c":"d"},{"i":34.6,"v":40,"s":5,"c":"d"},
      {"i":34.6,"v":40,"s":6,"c":"o"},{"i":35.8,"v":28.3,"s":6,"c":"o"},{"i":36.8,"v":20,"s":6,"c":"o"},{"i":37.8,"v":18.3,"s":6,"c":"o"},
      {"i":37.8,"v":18.3,"s":7,"c":"d"},{"i":39.1,"v":25,"s":7,"c":"d"},{"i":39.6,"v":28.3,"s":7,"c":"d"},
      {"i":39.6,"v":28.3,"s":8,"c":"o"},{"i":41.1,"v":18.3,"s":8,"c":"o"},{"i":42.1,"v":21.7,"s":8,"c":"o"},
      {"i":42.1,"v":21.7,"s":9,"c":"d"},{"i":43.1,"v":16.7,"s":9,"c":"d"},{"i":44.6,"v":45,"s":9,"c":"d"},{"i":46.1,"v":51.7,"s":9,"c":"d"},{"i":47.6,"v":40,"s":9,"c":"d"},{"i":49.1,"v":28.3,"s":9,"c":"d"},{"i":49.9,"v":23.3,"s":9,"c":"d"},
      {"i":49.9,"v":23.3,"s":10,"c":"o"},{"i":50.6,"v":25,"s":10,"c":"o"},
      {"i":50.6,"v":25,"s":11,"c":"d"},{"i":51.1,"v":31.7,"s":11,"c":"d"},{"i":52.4,"v":35,"s":11,"c":"d"},{"i":53.2,"v":28.3,"s":11,"c":"d"},
      {"i":53.2,"v":28.3,"s":12,"c":"o"},{"i":54.7,"v":20,"s":12,"c":"o"},{"i":55.7,"v":23.3,"s":12,"c":"o"},
      {"i":55.7,"v":23.3,"s":13,"c":"d"},{"i":56.7,"v":25,"s":13,"c":"d"},
      {"i":56.7,"v":25,"s":14,"c":"o"},{"i":57.9,"v":20,"s":14,"c":"o"},{"i":59.2,"v":18.3,"s":14,"c":"o"},
      {"i":59.2,"v":18.3,"s":15,"c":"d"},{"i":60.2,"v":28.3,"s":15,"c":"d"},{"i":61.7,"v":43.3,"s":15,"c":"d"},{"i":63.2,"v":30,"s":15,"c":"d"},{"i":64.2,"v":23.3,"s":15,"c":"d"},
      {"i":64.2,"v":23.3,"s":16,"c":"o"},{"i":65.7,"v":21.7,"s":16,"c":"o"},{"i":67,"v":18.3,"s":16,"c":"o"},
      {"i":67,"v":18.3,"s":17,"c":"d"},{"i":67.7,"v":28.3,"s":17,"c":"d"},
      {"i":67.7,"v":28.3,"s":18,"c":"o"},{"i":69.2,"v":23.3,"s":18,"c":"o"},{"i":70.2,"v":21.7,"s":18,"c":"o"},
      {"i":70.2,"v":21.7,"s":19,"c":"d"},{"i":71.7,"v":31.7,"s":19,"c":"d"},{"i":73.2,"v":43.3,"s":19,"c":"d"},{"i":74.7,"v":33.3,"s":19,"c":"d"},{"i":76.3,"v":23.3,"s":19,"c":"d"},
      {"i":76.3,"v":23.3,"s":20,"c":"o"},{"i":77.8,"v":20,"s":20,"c":"o"},{"i":78.2,"v":18.3,"s":20,"c":"o"},{"i":79.7,"v":18.3,"s":20,"c":"o"},
      {"i":79.7,"v":18.3,"s":21,"c":"d"},{"i":81.2,"v":23.3,"s":21,"c":"d"},{"i":82.7,"v":23.3,"s":21,"c":"d"},{"i":83.7,"v":38.3,"s":21,"c":"d"},{"i":85.2,"v":45,"s":21,"c":"d"},{"i":86.2,"v":43.3,"s":21,"c":"d"},{"i":87.7,"v":55,"s":21,"c":"d"},{"i":89,"v":58.3,"s":21,"c":"d"},{"i":90,"v":43.3,"s":21,"c":"d"},{"i":91.2,"v":36.7,"s":21,"c":"d"},{"i":92.7,"v":31.7,"s":21,"c":"d"},{"i":93.7,"v":26.7,"s":21,"c":"d"},{"i":95.2,"v":43.3,"s":21,"c":"d"},{"i":96.5,"v":30,"s":21,"c":"d"},{"i":97.5,"v":28.3,"s":21,"c":"d"},
      {"i":97.5,"v":28.3,"s":22,"c":"o"},{"i":99.3,"v":18.3,"s":22,"c":"o"},{"i":100.3,"v":18.3,"s":22,"c":"o"},
      {"i":100.3,"v":18.3,"s":23,"c":"d"},{"i":101.8,"v":31.7,"s":23,"c":"d"},{"i":102.8,"v":26.7,"s":23,"c":"d"},{"i":103.5,"v":31.7,"s":23,"c":"d"},
      {"i":103.5,"v":31.7,"s":24,"c":"o"},{"i":105.3,"v":18.3,"s":24,"c":"o"},{"i":106.8,"v":21.7,"s":24,"c":"o"},
      {"i":106.8,"v":21.7,"s":25,"c":"d"},{"i":108.3,"v":38.3,"s":25,"c":"d"},{"i":110.3,"v":45,"s":25,"c":"d"},{"i":111.6,"v":55,"s":25,"c":"d"},{"i":113.3,"v":33.3,"s":25,"c":"d"},{"i":114.8,"v":41.7,"s":25,"c":"d"},{"i":116.3,"v":45,"s":25,"c":"d"},
      {"i":116.3,"v":45,"s":26,"c":"o"},{"i":117.8,"v":25,"s":26,"c":"o"},{"i":118.3,"v":20,"s":26,"c":"o"},
      {"i":118.3,"v":20,"s":27,"c":"d"},{"i":120.4,"v":43.3,"s":27,"c":"d"},{"i":122.1,"v":58.3,"s":27,"c":"d"},{"i":123.4,"v":50,"s":27,"c":"d"},{"i":124.4,"v":30,"s":27,"c":"d"},{"i":125.9,"v":31.7,"s":27,"c":"d"},{"i":126.9,"v":25,"s":27,"c":"d"},{"i":127.9,"v":25,"s":27,"c":"d"},
      {"i":127.9,"v":25,"s":28,"c":"o"},{"i":129.4,"v":18.3,"s":28,"c":"o"},{"i":130.9,"v":18.3,"s":28,"c":"o"},
      {"i":130.9,"v":18.3,"s":29,"c":"d"},{"i":132.7,"v":30,"s":29,"c":"d"},
      {"i":132.7,"v":30,"s":30,"c":"o"},{"i":133.9,"v":18.3,"s":30,"c":"o"},{"i":135.4,"v":15,"s":30,"c":"o"},
      {"i":135.4,"v":15,"s":31,"c":"d"},{"i":136.4,"v":18.3,"s":31,"c":"d"},
      {"i":136.4,"v":18.3,"s":32,"c":"o"},{"i":137.9,"v":16.7,"s":32,"c":"o"},
      {"i":137.9,"v":16.7,"s":33,"c":"d"},{"i":138.9,"v":25,"s":33,"c":"d"},{"i":140.9,"v":43.3,"s":33,"c":"d"},{"i":142.4,"v":36.7,"s":33,"c":"d"},{"i":144,"v":41.7,"s":33,"c":"d"},{"i":145.5,"v":51.7,"s":33,"c":"d"},{"i":147,"v":35,"s":33,"c":"d"},{"i":148.5,"v":23.3,"s":33,"c":"d"},
      {"i":148.5,"v":23.3,"s":34,"c":"o"},{"i":150,"v":23.8,"s":34,"c":"o"}
    ],
    "ticks": [
      {"i":0,"t":"03:50"},{"i":6,"t":"06:33"},{"i":12,"t":"07:18"},{"i":18,"t":"08:34"},{"i":24,"t":"09:04"},{"i":30,"t":"09:31"},{"i":36,"t":"09:59"},{"i":42,"t":"10:40"},{"i":48,"t":"11:03"},{"i":54,"t":"11:40"},{"i":60,"t":"12:27"},{"i":66,"t":"13:16"},{"i":72,"t":"14:00"},{"i":78,"t":"14:36"},{"i":84,"t":"15:21"},{"i":90,"t":"15:40"},{"i":96,"t":"16:15"},{"i":102,"t":"16:52"},{"i":108,"t":"17:15"},{"i":114,"t":"17:31"},{"i":120,"t":"17:39"},{"i":126,"t":"18:04"},{"i":132,"t":"18:33"},{"i":138,"t":"19:27"},{"i":144,"t":"20:48"},{"i":150,"t":"21:46"}
    ]
  },
  "vconcat": [
    {
      "width": 1366,
      "height": 441,
      "layer": [
        {
          "data": {"values": [{"p": 1.2970}, {"p": 1.2939}, {"p": 1.2909}]},
          "mark": {"type": "rule", "color": "#00008B", "strokeWidth": 1},
          "encoding": {
            "x": {"datum": 0.0, "type": "quantitative", "scale": {"domain": [-0.84, 156.93], "nice": false, "zero": false, "padding": 0}, "axis": null},
            "x2": {"datum": 150},
            "y": {"field": "p", "type": "quantitative", "scale": {"domain": [1.288327, 1.298557], "nice": false, "zero": false},
              "axis": {"orient": "right", "offset": -54, "title": null, "grid": false, "values": [1.289, 1.29, 1.292, 1.295, 1.296, 1.298],
                "labelExpr": "replace(format(datum.value, '.4f'), '.', ',')", "tickSize": 4, "tickColor": "#000", "domainColor": "#000", "labelColor": "#000", "labelFontSize": 11, "labelPadding": 3, "labelOverlap": false}}
          }
        },
        {
          "data": {"values": [{"p": 1.2970, "t": "Top of Trading Range (5/8)"}, {"p": 1.2939, "t": "Major Support/Resistance Line (4/8)"}, {"p": 1.2909, "t": "Bottom of Trading Range (3/8)"}]},
          "mark": {"type": "text", "align": "right", "baseline": "middle", "dy": -7, "fontSize": 11, "color": "#808080"},
          "encoding": {"x": {"datum": 150}, "y": {"field": "p", "type": "quantitative"}, "text": {"field": "t"}}
        },
        {
          "data": {"name": "sma40"},
          "mark": {"type": "line", "color": "#800080", "strokeWidth": 4.5, "strokeDash": [4, 4]},
          "encoding": {"x": {"field": "i", "type": "quantitative"}, "y": {"field": "p", "type": "quantitative"}}
        },
        {
          "data": {"name": "bars"},
          "mark": {"type": "rule", "color": "#000", "strokeWidth": 1},
          "encoding": {"x": {"field": "i", "type": "quantitative"}, "y": {"field": "l", "type": "quantitative"}, "y2": {"field": "h"}}
        },
        {
          "data": {"name": "bars"},
          "mark": {"type": "bar", "size": 5, "stroke": "#000", "strokeWidth": 0.8},
          "encoding": {
            "x": {"field": "i", "type": "quantitative"},
            "y": {"field": "o", "type": "quantitative"},
            "y2": {"field": "c"},
            "color": {"condition": {"test": "datum.c >= datum.o", "value": "#b9e2b1"}, "value": "#8B1A1A"}
          }
        },
        {
          "data": {"name": "sma14"},
          "mark": {"type": "line", "strokeWidth": 2},
          "encoding": {
            "x": {"field": "i", "type": "quantitative"},
            "y": {"field": "p", "type": "quantitative"},
            "detail": {"field": "s", "type": "nominal"},
            "color": {"field": "c", "type": "nominal", "scale": {"domain": ["g", "r", "d", "o"], "range": ["#33CC33", "#FF0000", "#1E6E1E", "#FFA500"]}, "legend": null}
          }
        },
        {
          "data": {"name": "sma3"},
          "mark": {"type": "line", "color": "#000", "strokeWidth": 2},
          "encoding": {"x": {"field": "i", "type": "quantitative"}, "y": {"field": "p", "type": "quantitative"}}
        },
        {
          "data": {"values": [{"x1": -0.09, "x2": 5.86, "y1": 1.29793, "y2": 1.297513}]},
          "mark": {"type": "rect", "fill": "#FFFF00", "stroke": "#000", "strokeWidth": 1},
          "encoding": {"x": {"field": "x1", "type": "quantitative"}, "x2": {"field": "x2"}, "y": {"field": "y1", "type": "quantitative"}, "y2": {"field": "y2"}}
        },
        {
          "data": {"values": [{"x": 2.89, "p": 1.29772, "t": "Chop!"}]},
          "mark": {"type": "text", "align": "center", "baseline": "middle", "fontSize": 15, "fontWeight": "bold", "color": "#000"},
          "encoding": {"x": {"field": "x", "type": "quantitative"}, "y": {"field": "p", "type": "quantitative"}, "text": {"field": "t"}}
        },
        {
          "data": {"values": [{"x": -0.5, "p": 1.29830, "t": "SMA(6E 12-12 (4 Range),3), SMA_Colors(6E 12-12 (4 Range),1,1,14), MASlopeMulti(6E 12-12 (4 Range),0,5,None,3,3,1,1,255,6,Close,20,Color [Red],Color [DarkRed],Color [Black],Color [OrangeRed],120,Color [OrangeRed],Color [Olive],120,Color [Olive],3,3,10,1"}]},
          "mark": {"type": "text", "align": "left", "baseline": "middle", "fontSize": 11.2, "color": "#000"},
          "encoding": {"x": {"field": "x", "type": "quantitative"}, "y": {"field": "p", "type": "quantitative"}, "text": {"field": "t"}}
        },
        {
          "data": {"values": [{"x": 143.9, "p": 1.28932, "t": "-4°  SMA40"}]},
          "mark": {"type": "text", "align": "center", "baseline": "middle", "fontSize": 15, "fontWeight": "bold", "color": "#8B1010"},
          "encoding": {"x": {"field": "x", "type": "quantitative"}, "y": {"field": "p", "type": "quantitative"}, "text": {"field": "t"}}
        },
        {
          "data": {"values": [{"x": 147.8, "p": 1.298081}]},
          "mark": {"type": "point", "shape": "M-0.7,-1L0.7,0L-0.7,1Z", "size": 400, "filled": true, "fill": "#000", "opacity": 1},
          "encoding": {"x": {"field": "x", "type": "quantitative"}, "y": {"field": "p", "type": "quantitative"}}
        },
        {
          "data": {"values": [{"x1": 148.96, "x2": 149.65, "y1": 1.298325, "y2": 1.297838}]},
          "mark": {"type": "rect", "fill": "#000"},
          "encoding": {"x": {"field": "x1", "type": "quantitative"}, "x2": {"field": "x2"}, "y": {"field": "y1", "type": "quantitative"}, "y2": {"field": "y2"}}
        },
        {
          "data": {"values": [{"x": 153.29, "p": 1.2927}]},
          "mark": {"type": "point", "shape": "M-1,0L-0.72,-0.3L1,-0.3L1,0.3L-0.72,0.3Z", "size": 1936, "filled": true, "fill": "#a8a8a8", "stroke": "#000", "strokeWidth": 1, "opacity": 1},
          "encoding": {"x": {"field": "x", "type": "quantitative"}, "y": {"field": "p", "type": "quantitative"}}
        },
        {
          "data": {"values": [{"x": 153.29, "p": 1.2970, "t": "1,2970"}, {"x": 153.29, "p": 1.2939, "t": "1,2939"}, {"x": 153.29, "p": 1.2930, "t": "1,2930"}, {"x": 153.29, "p": 1.2926, "t": "1,2926"}, {"x": 153.29, "p": 1.2909, "t": "1,2909"}]},
          "layer": [
            {
              "mark": {"type": "point", "shape": "M-1,0L-0.72,-0.3L1,-0.3L1,0.3L-0.72,0.3Z", "size": 1936, "filled": true, "fill": "#a8a8a8", "stroke": "#000", "strokeWidth": 1, "opacity": 1},
              "encoding": {"x": {"field": "x", "type": "quantitative"}, "y": {"field": "p", "type": "quantitative"}}
            },
            {
              "mark": {"type": "text", "align": "center", "baseline": "middle", "dx": 3, "fontSize": 11, "color": "#000"},
              "encoding": {"x": {"field": "x", "type": "quantitative"}, "y": {"field": "p", "type": "quantitative"}, "text": {"field": "t"}}
            }
          ]
        }
      ]
    },
    {
      "width": 1366,
      "height": 54,
      "layer": [
        {
          "data": {"values": [{"x": -0.5, "v": 0.045, "t": "Force_Index_v02(6E 12-12 (4 Range),EMA,13,EMA,10)"}]},
          "mark": {"type": "text", "align": "left", "baseline": "middle", "fontSize": 11.5, "color": "#000"},
          "encoding": {
            "x": {"field": "x", "type": "quantitative", "scale": {"domain": [-0.84, 156.93], "nice": false, "zero": false, "padding": 0}, "axis": null},
            "y": {"field": "v", "type": "quantitative", "scale": {"domain": [-0.3629, 0.2495], "nice": false, "zero": false},
              "axis": {"orient": "right", "offset": -54, "title": null, "grid": false, "values": [0], "tickSize": 4, "tickColor": "#000", "domainColor": "#000", "labelColor": "#000", "labelFontSize": 11, "labelPadding": 3}},
            "text": {"field": "t"}
          }
        },
        {
          "data": {"values": [{"x1": -0.84, "x2": 150.69, "v": 0}]},
          "mark": {"type": "rule", "color": "#000080", "strokeWidth": 1},
          "encoding": {"x": {"field": "x1", "type": "quantitative"}, "x2": {"field": "x2"}, "y": {"field": "v", "type": "quantitative"}}
        },
        {
          "data": {"name": "bars"},
          "mark": {"type": "bar", "size": 6},
          "encoding": {
            "x": {"field": "i", "type": "quantitative"},
            "y": {"field": "f", "type": "quantitative"},
            "y2": {"datum": 0},
            "color": {"condition": {"test": "datum.f >= 0", "value": "#0000FF"}, "value": "#FF0000"}
          }
        },
        {
          "data": {"values": [{"x": 153.29, "v": -0.0794, "t": "-0,0794"}]},
          "layer": [
            {
              "mark": {"type": "point", "shape": "M-1,0L-0.72,-0.3L1,-0.3L1,0.3L-0.72,0.3Z", "size": 1936, "filled": true, "fill": "#a8a8a8", "stroke": "#000", "strokeWidth": 1, "opacity": 1},
              "encoding": {"x": {"field": "x", "type": "quantitative"}, "y": {"field": "v", "type": "quantitative"}}
            },
            {
              "mark": {"type": "text", "align": "center", "baseline": "middle", "dx": 3, "fontSize": 11, "color": "#000"},
              "encoding": {"x": {"field": "x", "type": "quantitative"}, "y": {"field": "v", "type": "quantitative"}, "text": {"field": "t"}}
            }
          ]
        }
      ]
    },
    {
      "width": 1366,
      "height": 53,
      "layer": [
        {
          "data": {"values": [{"x": -0.5, "v": 25.5, "t": "JeffsADXv2(6E 12-12 (4 Range),10)"}]},
          "mark": {"type": "text", "align": "left", "baseline": "middle", "fontSize": 11.5, "color": "#000"},
          "encoding": {
            "x": {"field": "x", "type": "quantitative", "scale": {"domain": [-0.84, 156.93], "nice": false, "zero": false, "padding": 0}, "axis": null},
            "y": {"field": "v", "type": "quantitative", "scale": {"domain": [-6.36, 41.82], "nice": false, "zero": false},
              "axis": {"orient": "right", "offset": -54, "title": null, "grid": false, "values": [0], "tickSize": 4, "tickColor": "#000", "domainColor": "#000", "labelColor": "#000", "labelFontSize": 11, "labelPadding": 3}},
            "text": {"field": "t"}
          }
        },
        {
          "data": {"name": "bars"},
          "mark": {"type": "bar", "size": 6},
          "encoding": {
            "x": {"field": "i", "type": "quantitative"},
            "y": {"field": "a", "type": "quantitative"},
            "y2": {"datum": 0},
            "color": {"condition": {"test": "datum.ac == 'b'", "value": "#0000FF"}, "value": "#FF0000"}
          }
        },
        {
          "data": {"values": [{"x1": -0.84, "x2": 150.69, "v": 20}]},
          "mark": {"type": "rule", "color": "#CC0000", "strokeWidth": 1},
          "encoding": {"x": {"field": "x1", "type": "quantitative"}, "x2": {"field": "x2"}, "y": {"field": "v", "type": "quantitative"}}
        },
        {
          "data": {"values": [{"x": 153.29, "v": 22.82, "t": "22,82"}]},
          "layer": [
            {
              "mark": {"type": "point", "shape": "M-1,0L-0.72,-0.3L1,-0.3L1,0.3L-0.72,0.3Z", "size": 1936, "filled": true, "fill": "#a8a8a8", "stroke": "#000", "strokeWidth": 1, "opacity": 1},
              "encoding": {"x": {"field": "x", "type": "quantitative"}, "y": {"field": "v", "type": "quantitative"}}
            },
            {
              "mark": {"type": "text", "align": "center", "baseline": "middle", "dx": 3, "fontSize": 11, "color": "#000"},
              "encoding": {"x": {"field": "x", "type": "quantitative"}, "y": {"field": "v", "type": "quantitative"}, "text": {"field": "t"}}
            }
          ]
        }
      ]
    },
    {
      "width": 1366,
      "height": 130,
      "layer": [
        {
          "data": {"values": [{"x": -0.5, "v": 66, "t": "DMplus_v3a(6E 12-12 (4 Range),5)"}, {"x": -0.5, "v": 6, "t": "© 2012 NinjaTrader, LLC"}]},
          "mark": {"type": "text", "align": "left", "baseline": "middle", "fontSize": 11.5, "color": "#000"},
          "encoding": {
            "x": {"field": "x", "type": "quantitative", "scale": {"domain": [-0.84, 156.93], "nice": false, "zero": false, "padding": 0}, "axis": null},
            "y": {"field": "v", "type": "quantitative", "scale": {"domain": [-45, 85], "nice": false, "zero": false},
              "axis": {"orient": "right", "offset": -54, "title": null, "grid": false, "domain": false, "values": [50], "tickSize": 4, "tickColor": "#000", "labelColor": "#000", "labelFontSize": 11, "labelPadding": 3}},
            "text": {"field": "t"}
          }
        },
        {
          "data": {"values": [{"x1": -0.84, "x2": 150.69, "v": 40, "k": "a"}, {"x1": -0.84, "x2": 150.69, "v": 24, "k": "b"}, {"x1": -0.84, "x2": 150.69, "v": 0, "k": "c"}]},
          "mark": {"type": "rule", "strokeWidth": 1},
          "encoding": {
            "x": {"field": "x1", "type": "quantitative"}, "x2": {"field": "x2"},
            "y": {"field": "v", "type": "quantitative"},
            "color": {"condition": [{"test": "datum.k == 'a'", "value": "#8B0000"}, {"test": "datum.k == 'b'", "value": "#8000C0"}], "value": "#000000"}
          }
        },
        {
          "data": {"values": [{"x": 150.69, "v1": 0, "v2": 85}]},
          "mark": {"type": "rule", "color": "#000", "strokeWidth": 1},
          "encoding": {"x": {"field": "x", "type": "quantitative"}, "y": {"field": "v1", "type": "quantitative"}, "y2": {"field": "v2"}}
        },
        {
          "data": {"name": "ticks"},
          "mark": {"type": "rule", "color": "#000", "strokeWidth": 1},
          "encoding": {"x": {"field": "i", "type": "quantitative"}, "y": {"datum": 0}, "y2": {"datum": -6.5}}
        },
        {
          "data": {"name": "ticks"},
          "mark": {"type": "text", "align": "center", "baseline": "middle", "fontSize": 12, "color": "#000", "clip": true},
          "encoding": {"x": {"field": "i", "type": "quantitative"}, "y": {"datum": -13.3}, "text": {"field": "t"}}
        },
        {
          "data": {"name": "dmb"},
          "mark": {"type": "line", "color": "#0000FF", "strokeWidth": 1},
          "encoding": {"x": {"field": "i", "type": "quantitative"}, "y": {"field": "v", "type": "quantitative"}}
        },
        {
          "data": {"name": "dmr"},
          "mark": {"type": "line", "color": "#FF0000", "strokeWidth": 1},
          "encoding": {"x": {"field": "i", "type": "quantitative"}, "y": {"field": "v", "type": "quantitative"}}
        },
        {
          "data": {"name": "dmt"},
          "mark": {"type": "line", "strokeWidth": 3.5},
          "encoding": {
            "x": {"field": "i", "type": "quantitative"},
            "y": {"field": "v", "type": "quantitative"},
            "detail": {"field": "s", "type": "nominal"},
            "color": {"field": "c", "type": "nominal", "scale": {"domain": ["g", "r", "d", "o"], "range": ["#33CC33", "#FF0000", "#1E6E1E", "#FFA500"]}, "legend": null}
          }
        },
        {
          "data": {"values": [{"x": 153.29, "v": 23.8, "t": "23,8"}]},
          "layer": [
            {
              "mark": {"type": "point", "shape": "M-1,0L-0.72,-0.3L1,-0.3L1,0.3L-0.72,0.3Z", "size": 1936, "filled": true, "fill": "#a8a8a8", "stroke": "#000", "strokeWidth": 1, "opacity": 1},
              "encoding": {"x": {"field": "x", "type": "quantitative"}, "y": {"field": "v", "type": "quantitative"}}
            },
            {
              "mark": {"type": "text", "align": "center", "baseline": "middle", "dx": 3, "fontSize": 11, "color": "#000"},
              "encoding": {"x": {"field": "x", "type": "quantitative"}, "y": {"field": "v", "type": "quantitative"}, "text": {"field": "t"}}
            }
          ]
        },
        {
          "data": {"values": [{"x": 153.29, "v": 35.13, "t": "35,13"}, {"x": 153.29, "v": 18.43, "t": "18,43"}]},
          "layer": [
            {
              "mark": {"type": "point", "shape": "M-1,0L-0.72,-0.3L1,-0.3L1,0.3L-0.72,0.3Z", "size": 1936, "filled": true, "fill": "#a8a8a8", "stroke": "#000", "strokeWidth": 1, "opacity": 1},
              "encoding": {"x": {"field": "x", "type": "quantitative"}, "y": {"field": "v", "type": "quantitative"}}
            },
            {
              "mark": {"type": "text", "align": "center", "baseline": "middle", "dx": 3, "fontSize": 11, "color": "#000"},
              "encoding": {"x": {"field": "x", "type": "quantitative"}, "y": {"field": "v", "type": "quantitative"}, "text": {"field": "t"}}
            }
          ]
        }
      ]
    }
  ],
  "config": {
    "font": "Liberation Sans",
    "view": {"stroke": "#000", "strokeWidth": 1},
    "concat": {"spacing": 0},
    "axis": {"labelFont": "Liberation Sans"}
  }
}
